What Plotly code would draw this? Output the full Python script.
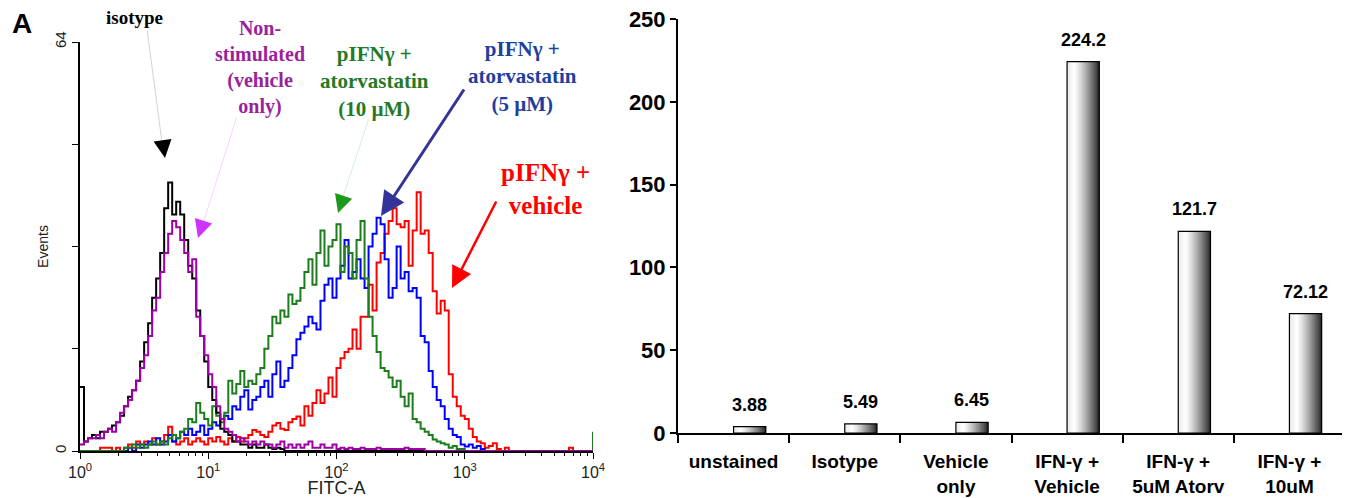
import plotly.graph_objects as go

# ---------------- data ----------------
# FITC channels: 32 bins per decade, 10^0 .. 10^4
fitc_channel = [10 ** (i / 32) for i in range(129)]

isotype_counts = [10, 1.5, 2, 2.5, 2, 3, 3, 3.5, 4, 4.5, 5.5, 7, 8.5, 9.5, 11, 14, 17, 20, 24, 27,
                  31, 38, 42, 37, 39, 37, 33, 29, 27, 22, 18, 14, 10, 8, 6, 3.5, 3, 2.5, 1.5, 1.5,
                  1, 1, 0.5, 1, 0.5, 0.5, 1, 0.5, 0.3, 0.5, 0.3] + [0] * 78

nonstim_counts = [1, 1.5, 2, 2, 2.5, 2, 3, 3.5, 3, 4.5, 6, 7, 8, 9.5, 11, 13, 15, 18, 22, 24,
                  28, 31, 34, 36, 35, 33, 31, 28, 30, 21, 18, 15, 12, 10, 7, 5, 3.5, 3, 2.5, 1.5,
                  2, 1.5, 1, 1.5, 1, 1.5, 1,
                  1, 0.5, 1, 1.5, 0.5, 1, 0.5, 1, 0.5, 1, 1.5, 0.5, 0.5, 1,
                  0.5, 0.5, 1, 0.3, 0.5, 0.3, 0.5, 0.3, 0.3, 0.5, 0.3, 0.3, 0.3, 0.5, 0.3, 0.3,
                  0.3, 0.3, 0.3, 0.3,
                  0.5, 0.3, 0.3, 0.3, 0.3] + [0] * 43

atorva10_counts = [0] * 11 + [
    0.5, 0.5, 1, 0.5, 1, 0.5, 1, 1.5, 1, 1.5, 1, 2, 2.5, 2, 3, 3.5, 5, 4.5, 7.5, 6,
    5, 4, 7, 5.5, 4.5, 6, 11, 9, 10.5, 12.5, 10, 11, 10.5, 12, 13, 16, 18, 21, 20, 22,
    21, 24.5, 23, 23.5, 25.5, 28, 30, 26, 31, 34.5, 29, 32, 33, 35.5, 28, 32, 31, 27, 33, 36,
    27, 21, 18, 15.5, 13, 12.5, 11.5, 10, 11, 8.5, 7, 9, 5, 4.5, 3.5, 3, 2.5, 1.8, 1.5, 1.2,
    1, 0.5, 0.8, 0.3, 0.3] + [0] * 32 + [3]

atorva5_counts = [0] * 12 + [
    0.5, 0, 1, 0.5, 1, 1.5, 1, 2, 1, 1.5, 2.5, 1.5, 2, 3, 2.5, 3.5, 2.5, 3, 4,
    2.5, 3.5, 4.5, 4, 5, 5.5, 5, 7, 6.5, 8.5, 9.5, 6.5, 8, 8.5, 10, 11, 8.5, 12, 14, 10,
    11, 13, 15, 17.5, 18.5, 19.5, 21, 20, 19, 23.5, 26, 27, 24, 27, 29, 33, 27, 28, 30, 27,
    25.5, 32, 34, 36.5, 35.5, 30, 24, 25.5, 32, 27, 28, 25, 25.5, 24, 18, 17, 12.5, 10, 8, 7,
    5, 3.5, 2.5, 2.2, 1, 0.7, 1, 0.5, 0.8, 0.3] + [0] * 28

vehicle_counts = [0] * 5 + [
    0.5, 0.5, 0.5, 0, 0.5, 0, 0.5, 1, 0.5, 1.5, 1, 1.5, 1, 2, 1, 1.5, 2.5, 3.8, 1.5, 1,
    1.5, 2, 1, 1.5, 2, 1.5, 1, 2, 1.5, 2.2, 1.5, 1, 2, 1.5, 2.2, 1.5, 2, 2.5, 3.3, 3,
    2.5, 2.2, 3, 4, 4.4, 3.5, 3.3, 4.5, 5, 5.4, 4, 7, 5.5, 7.5, 9.5, 7.5, 9, 11.5, 8.5, 13,
    14.5, 15.5, 16, 19, 16, 21, 21, 26, 22, 29.5, 31, 34, 36, 38, 35.5, 35, 36, 29, 34.5, 40.5,
    34, 34.5, 31, 25, 21.5, 23.5, 22, 12, 8.5, 7, 5.5, 5, 3.5, 2.2, 1.5, 1.2, 0.5, 0.8, 1.2, 0.3,
    0, 0.5] + [0] * 15 + [0.5] + [0] * 6

fitc_tickvals = [1, 10, 100, 1000, 10000]
fitc_ticktext = ["10<sup>0</sup>", "10<sup>1</sup>", "10<sup>2</sup>", "10<sup>3</sup>", "10<sup>4</sup>"]
events_tickvals = [0, 16, 32, 48, 64]
events_ticktext = ["0", "", "", "", "64"]

categories = ["unstained", "Isotype", "Vehicle<br>only", "IFN-γ +<br>Vehicle",
              "IFN-γ +<br>5uM Atorv", "IFN-γ +<br>10uM"]
mfi_values = [3.88, 5.49, 6.45, 224.2, 121.7, 72.12]
mfi_labels = ["3.88", "5.49", "6.45", "224.2", "121.7", "72.12"]

# ---------------- figure ----------------
# the page body has an 8px margin, so the figure is placed at (8, 8) in the window
OFF = 8
W, H = 1350 - OFF, 498 - OFF


def px(x):
    return (x - OFF) / W


def py(y):
    return 1 - (y - OFF) / H


SERIF = "Liberation Serif, Times New Roman, serif"
SANS = "Liberation Sans, Arial, sans-serif"

fig = go.Figure()

hist = [
    (vehicle_counts, "#ff0000"),
    (atorva5_counts, "#0000ff"),
    (atorva10_counts, "#1b7d1b"),
    (isotype_counts, "#000000"),
    (nonstim_counts, "#a000a8"),
]
for counts, col in hist:
    fig.add_trace(go.Scatter(x=fitc_channel, y=counts, mode="lines",
                             line=dict(color=col, width=2, shape="hv"),
                             xaxis="x", yaxis="y", showlegend=False, hoverinfo="skip"))

# gradient bars (slices) + outline
n = 24
bw = 0.29


def grad(t):
    if t < 0.22:
        return 232 + (255 - 232) * t / 0.22
    return 255 - 215 * ((t - 0.22) / 0.78) ** 1.25


for k in range(n):
    v = int(round(grad((k + 0.5) / n)))
    fig.add_trace(go.Bar(x=categories, y=mfi_values,
                         width=bw / n * (1.0 if k == n - 1 else 1.6), offset=k * bw / n,
                         marker=dict(color=f"rgb({v},{v},{v})", line=dict(width=0)),
                         xaxis="x2", yaxis="y2", showlegend=False, hoverinfo="skip"))
fig.add_trace(go.Bar(x=categories, y=mfi_values, width=bw, offset=0,
                     marker=dict(color="rgba(0,0,0,0)", line=dict(color="black", width=1.2)),
                     xaxis="x2", yaxis="y2", showlegend=False, hoverinfo="skip"))

annotations = []
for c, v, lab in zip(categories, mfi_values, mfi_labels):
    annotations.append(dict(x=c, y=v, xref="x2", yref="y2", text=lab, showarrow=False,
                            xshift=16, yshift=22,
                            font=dict(family=SANS, size=18, color="black", weight=700)))


def line_only(head, tail, color, width):
    annotations.append(dict(x=px(head[0]), y=py(head[1]), xref="paper", yref="paper",
                            ax=tail[0] - head[0], ay=tail[1] - head[1], axref="pixel", ayref="pixel",
                            text="", showarrow=True, arrowhead=0, arrowwidth=width,
                            arrowcolor=color))


def head_only(tip, tail, color, size):
    dx, dy = tip[0] - tail[0], tip[1] - tail[1]
    L = (dx * dx + dy * dy) ** 0.5
    annotations.append(dict(x=px(tip[0]), y=py(tip[1]), xref="paper", yref="paper",
                            ax=-dx / L * 8, ay=-dy / L * 8, axref="pixel", ayref="pixel",
                            text="", showarrow=True, arrowhead=2, arrowwidth=2, arrowsize=size,
                            arrowcolor=color))


def full_arrow(tip, tail, color, width, size):
    annotations.append(dict(x=px(tip[0]), y=py(tip[1]), xref="paper", yref="paper",
                            ax=tail[0] - tip[0], ay=tail[1] - tip[1], axref="pixel", ayref="pixel",
                            text="", showarrow=True, arrowhead=2, arrowwidth=width, arrowsize=size,
                            arrowcolor=color))


# isotype
line_only((163, 150), (147, 29), "#c8c8c8", 0.8)
head_only((165, 158), (147, 29), "black", 1.8)
# non-stimulated
line_only((201, 230), (237, 116), "#f0c8ff", 0.8)
head_only((198, 238), (237, 116), "#cc33ff", 1.8)
# 10 uM
line_only((340, 206), (369, 118), "#c8e8c8", 0.8)
head_only((338, 213), (369, 118), "#1b9a1b", 1.8)
# 5 uM
full_arrow((381, 216), (465, 88), "#333399", 3, 1.6)
# vehicle
full_arrow((452, 288), (497, 200), "#ff0000", 2.5, 1.7)

texts = [
    ("isotype", 134, 17, "#000000", 19),
    ("Non-<br>stimulated<br>(vehicle<br>only)", 260, 67, "#9c1f9c", 20),
    ("pIFNγ +<br>atorvastatin<br>(10 µM)", 374, 81, "#267a26", 21),
    ("pIFNγ +<br>atorvastatin<br>(5 µM)", 522, 76, "#1f3f9f", 21),
    ("pIFNγ +<br>vehicle", 545, 189, "#ff0000", 25),
]
for t, x, y, col, s in texts:
    annotations.append(dict(x=px(x), y=py(y), xref="paper", yref="paper", text=t,
                            showarrow=False, xanchor="center", yanchor="middle",
                            font=dict(family=SERIF, size=s, color=col, weight=700)))

annotations.append(dict(x=px(22), y=py(24), xref="paper", yref="paper", text="A",
                        showarrow=False, xanchor="center", yanchor="middle",
                        font=dict(family=SANS, size=28, color="black", weight=700)))

minor_vals = [m * 10 ** k for k in range(4) for m in range(2, 10)]

fig.update_layout(
    width=W, height=H, margin=dict(l=0, r=0, t=0, b=0, autoexpand=False),
    paper_bgcolor="white", plot_bgcolor="white",
    barmode="overlay", hovermode=False, showlegend=False,
    annotations=annotations,
    xaxis=dict(type="log", range=[0, 4], domain=[px(80), px(593)], anchor="y", automargin=False,
               showline=True, linecolor="black", linewidth=1.5, mirror=False,
               ticks="outside", ticklen=6, tickcolor="black", tickwidth=1,
               tickvals=fitc_tickvals, ticktext=fitc_ticktext, ticklabeloverflow="allow",
               tickfont=dict(family=SANS, size=16, color="#222"),
               minor=dict(ticks="outside", ticklen=3, tickcolor="black", tickvals=minor_vals,
                          showgrid=False),
               title=dict(text="FITC-A", font=dict(family=SANS, size=18, color="#222"), standoff=8),
               showgrid=False, zeroline=False),
    yaxis=dict(range=[0, 64], domain=[py(451), py(42)], anchor="x", automargin=False,
               showline=True, linecolor="black", linewidth=1.5,
               ticks="outside", ticklen=6, tickcolor="black", ticklabeloverflow="allow",
               tickvals=events_tickvals, ticktext=events_ticktext, tickangle=-90,
               tickfont=dict(family=SANS, size=15, color="#222"),
               title=dict(text="Events", font=dict(family=SANS, size=14, color="#222"), standoff=0),
               showgrid=False, zeroline=False),
    xaxis2=dict(type="category", range=[-0.5, 5.5], domain=[px(678), px(1345)], anchor="y2",
                automargin=False, ticklabeloverflow="allow",
                showline=True, linecolor="black", linewidth=2,
                ticks="outside", ticklen=8, tickcolor="black", tickwidth=1.5, tickson="boundaries",
                tickfont=dict(family=SANS, size=19, color="black", weight=700),
                ticklabelstandoff=10, showgrid=False, zeroline=False),
    yaxis2=dict(range=[0, 250], domain=[py(433), py(19)], anchor="x2", dtick=50, automargin=False,
                showline=True, linecolor="black", linewidth=2, ticklabeloverflow="allow",
                ticks="outside", ticklen=6, tickcolor="black", tickwidth=1.5,
                tickfont=dict(family=SANS, size=22, color="black", weight=700),
                showgrid=False, zeroline=False),
)

fig.write_html("out.html")
